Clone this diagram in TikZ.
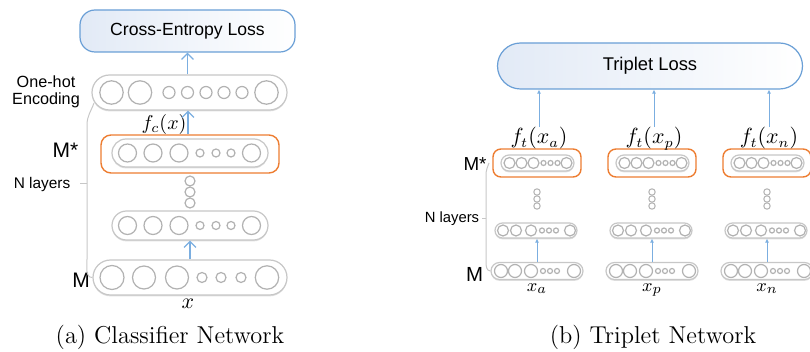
\documentclass[tikz,border=0pt]{standalone}
\usepackage{fontspec}
\newfontfamily\arialfont{Liberation Sans}
\usepackage{tikz}
\usetikzlibrary{arrows.meta, positioning, shapes.misc, shadows, calc}
\definecolor{lossfill}{HTML}{E2EAF6}
\definecolor{lossedge}{HTML}{6A9FD6}
\definecolor{arblue}{HTML}{7BAEE0}
\definecolor{mborder}{HTML}{ED7D31}
\tikzset{
  layer/.style  ={rounded rectangle, draw=black!22, line width=0.6pt, fill=white,
                  inner sep=0pt, drop shadow={shadow xshift=0pt, shadow yshift=-0.7pt,
                  opacity=0.25}},
  unit/.style   ={draw=black!30, line width=0.6pt, fill=white},
  mbox/.style   ={rectangle, draw=mborder, line width=0.7pt, inner sep=0pt},
  brace/.style  ={draw=black!22, line width=0.5pt},
  sflbl/.style  ={font=\arialfont, text=black, inner sep=0pt, anchor=base}
}
\begin{document}
\begin{tikzpicture}[
  x=0.5pt, y=-0.5pt,
  ar/.style={-{Straight Barb[length=3pt, width=6pt]}, line width=0.6pt, arblue},
  tar/.style={-{Latex[length=2pt, width=2pt]}, line width=0.5pt, arblue},
  lossbox/.style={draw=lossedge, line width=0.6pt, left color=lossfill,
                  right color=white, inner sep=0pt, font=\arialfont},
  mlbl/.style={inner sep=0pt, anchor=base, font=\fontsize{10.5}{12}\selectfont}
]
\useasboundingbox (0,0) rectangle (810,352);

%  (a) classifier network
\node[lossbox, rectangle, rounded corners=7.5pt, minimum width=107.5pt,
      minimum height=21pt, font=\arialfont\fontsize{8.8}{10}\selectfont] (lossL)
      at (187.5,31) {Cross-Entropy Loss};
\node[layer, minimum width=97.5pt, minimum height=17.5pt] (onehot) at (189.5,92.5) {};
\foreach \dx/\r in {-78/5.85, -49.5/5.85, -20.5/3, -2/3, 16.5/3, 34.5/3, 52.5/3, 77/5.85}
  \draw[unit] ($(onehot.center)+(\dx,0)$) circle (\r pt);
\node[mbox, rounded corners=5pt, minimum width=89pt, minimum height=19pt] (starL)
      at (190,154) {};
\node[layer, minimum width=78pt, minimum height=14pt] (inL) at (190,153) {};
\node[layer, minimum width=78pt, minimum height=14.5pt] (midL) at (190,225.5) {};
\foreach \dx/\r in {-62.5/4.5, -37/4.5, -11/4.5, 10/2, 26/2, 41/2, 61.5/4.5} {
  \draw[unit] ($(inL.center)+(\dx,0)$) circle (\r pt);
  \draw[unit] ($(midL.center)+(\dx,0)$) circle (\r pt);
}
\foreach \dy in {181,192,203}
  \draw[unit] (190,\dy) circle (2.5pt);
\node[layer, minimum width=97pt, minimum height=17.5pt] (botL) at (190,277.5) {};
\foreach \dx/\r in {-78/6, -46/5.75, -13/5.75, 12/2.5, 31/2.5, 51/2.5, 77/5.85}
  \draw[unit] ($(botL.center)+(\dx,0)$) circle (\r pt);

\node[font=\arialfont\fontsize{8.1}{8.6}\selectfont, align=center, inner sep=0pt]
      (onehotlab) at (46,92) {One-hot\\Encoding};
\node[sflbl, font=\arialfont\fontsize{10.5}{12}\selectfont] (mstarL) at (65.5,158) {M*};
\node[sflbl, font=\arialfont\fontsize{7.7}{9}\selectfont] (nlayL) at (42,189) {N layers};
\node[sflbl, font=\arialfont\fontsize{10.5}{12}\selectfont] (mL) at (81,288) {M};
\node[mlbl, font=\fontsize{10}{12}\selectfont] (fc) at (164,130) {$f_c(x)$};
\node[mlbl, font=\fontsize{11}{13}\selectfont] (xin) at (188,309) {$x$};

\coordinate (brL) at (87,125);
\draw[brace] ($(brL)+(7,-22)$) to[out=250,in=90] (brL) -- (brL |- botL.north)
      to[out=-90,in=180] (botL.west);
\draw[brace] ($(brL)+(0,59)$) -- ++(-7,0);

\draw[ar] (onehot.north -| lossL) -- (lossL.south);
\draw[ar] (starL.north -| 188,0) -- (onehot.south -| 188,0);
\draw[ar] (botL.north) -- (midL.south);

%  (b) triplet network
\node[lossbox, rounded rectangle, minimum width=152.5pt, minimum height=23pt,
      font=\arialfont\fontsize{9.2}{11}\selectfont] (lossR) at (650,66) {Triplet Loss};
\foreach \col/\cx in {a/537, p/652, n/767} {
  \node[mbox, rounded corners=4pt, minimum width=44pt, minimum height=14pt] (star\col)
        at (\cx,163) {};
  \node[layer, minimum width=36.5pt, minimum height=8pt] (in\col) at (\cx+0.5,163) {};
  \foreach \dx/\r in {-28/2.75, -16/2.75, -4/2.75, 6/1.25, 13/1.25, 20/1.25, 29/2.75}
    \draw[unit] ($(in\col.center)+(\dx,0)$) circle (\r pt);
  \foreach \dy in {192,199,206}
    \draw[unit, line width=0.5pt] (\cx,\dy) circle (1.6pt);
  \node[layer, minimum width=41pt, minimum height=7.5pt] (mid\col) at (\cx-1,230.5) {};
  \foreach \dx/\r in {-33/2.75, -20/2.75, -5/2.75, 6/1.25, 13/1.25, 20/1.25, 34/2.75}
    \draw[unit] ($(mid\col.center)+(\dx,0)$) circle (\r pt);
  \node[layer, minimum width=46pt, minimum height=8.5pt] (bot\col) at (\cx,271) {};
  \foreach \dx/\r in {-36/3.25, -22/3.25, -6/3.25, 6/1.25, 13/1.25, 20/1.25, 37/3.25}
    \draw[unit] ($(bot\col.center)+(\dx,0)$) circle (\r pt);
  \node[mlbl] (ft\col) at (\cx+2,144) {$f_t(x_\col)$};
  \node[mlbl, font=\fontsize{9.5}{11}\selectfont] (x\col) at (\cx,292) {$x_\col$};
  \draw[tar] (ft\col.north) -- (ft\col.north |- lossR.south);
  \draw[tar] (bot\col.north) -- (bot\col.north |- mid\col.south);
}
\node[sflbl, font=\arialfont\fontsize{9.4}{11}\selectfont] (mstarR) at (475,171) {M*};
\node[sflbl, font=\arialfont\fontsize{7.4}{9}\selectfont] (nlayR) at (452,223) {N layers};
\node[sflbl, font=\arialfont\fontsize{10.2}{12}\selectfont] (mR) at (474.5,282) {M};

\coordinate (brR) at (486,175);
\draw[brace] ($(brR)+(3,-12)$) to[out=250,in=90] (brR) -- (brR |- bota.north)
      to[out=-90,in=180] (bota.west);
\draw[brace] ($(brR)+(0,44)$) -- ++(-4,0);

%  captions
\node[mlbl, font=\fontsize{12.2}{14}\selectfont] (capA) at (170,344) {(a) Classifier Network};
\node[mlbl, font=\fontsize{12.2}{14}\selectfont] (capB) at (653,344) {(b) Triplet Network};
\end{tikzpicture}
\end{document}
